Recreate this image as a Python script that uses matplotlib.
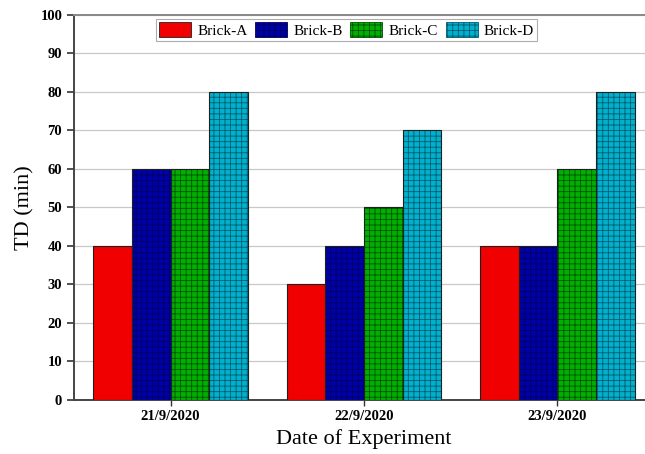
import numpy as np
import matplotlib.pyplot as plt

plt.rcParams['font.family'] = ['Liberation Serif', 'DejaVu Serif']
plt.rcParams['hatch.linewidth'] = 0.6

dates = ["21/9/2020", "22/9/2020", "23/9/2020"]
bricks = ["Brick-A", "Brick-B", "Brick-C", "Brick-D"]
brick_a = [40, 30, 40]
brick_b = [60, 40, 40]
brick_c = [60, 50, 60]
brick_d = [80, 70, 80]

values = [brick_a, brick_b, brick_c, brick_d]
colors = ["#f00000", "#0000a8", "#00b000", "#00b0cc"]
hatch_colors = [None, "#000060", "#005000", "#005a70"]
hatches = ["", "+++", "+++", "+++"]

fig = plt.figure(figsize=(6.45, 4.54), dpi=100)
ax = fig.add_axes([0.1147, 0.119, 0.899, 0.848])

x = np.arange(len(dates))
w = 0.2
for i in range(4):
    pos = x + (i - 1.5) * w
    ax.bar(pos, values[i], width=w, color=colors[i], linewidth=0, zorder=3)
    if hatches[i]:
        ax.bar(pos, values[i], width=w, facecolor="none",
               edgecolor=hatch_colors[i], hatch=hatches[i], linewidth=0, zorder=3)
    ax.bar(pos, values[i], width=w, facecolor="none",
           edgecolor="#202020", linewidth=0.8, zorder=4)
    # legend proxy
    ax.bar([np.nan], [0], color=colors[i],
           edgecolor=hatch_colors[i] or "#202020", hatch=hatches[i],
           linewidth=0.6, label=bricks[i])

ax.set_xlim(-0.5, 2.5)
ax.set_ylim(0, 100)
ax.set_yticks(range(0, 101, 10))
ax.set_xticks(x)
ax.set_xticklabels(dates, fontweight="bold", fontsize=10.5)
for t in ax.get_yticklabels():
    t.set_fontweight("bold")
    t.set_fontsize(10.5)
ax.yaxis.grid(True, color="#c8c8c8", linewidth=0.9, zorder=0)
ax.tick_params(axis="y", direction="out", length=5, width=1.2, color="#333333")
ax.tick_params(axis="x", direction="out", length=4, width=1, color="#333333")

for side in ["left", "bottom"]:
    ax.spines[side].set_linewidth(1.4)
    ax.spines[side].set_color("#444444")
ax.spines["top"].set_linewidth(1.4)
ax.spines["top"].set_color("#888888")
ax.spines["right"].set_visible(False)

ax.set_ylabel("TD (min)", fontsize=16)
ax.set_xlabel("Date of Experiment", fontsize=16)

leg = ax.legend(loc="upper center", bbox_to_anchor=(0.47, 0.995), ncol=4,
                fontsize=11, frameon=True, fancybox=False, edgecolor="#999999",
                handlelength=2.1, handleheight=1.1, columnspacing=0.5,
                handletextpad=0.4, borderpad=0.2, borderaxespad=0.15)
leg.get_frame().set_linewidth(0.8)

fig.savefig("out.png", dpi=100)
